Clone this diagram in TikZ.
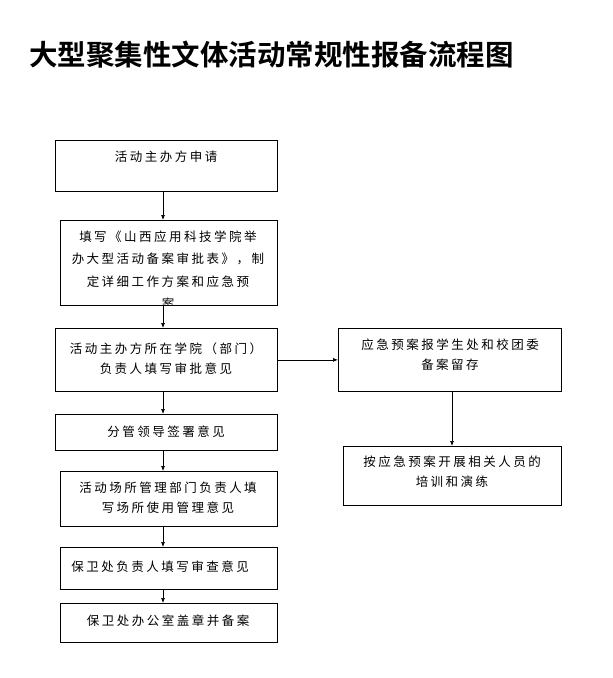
\documentclass[tikz,border=0pt]{standalone}
\usepackage{fontspec}
\newfontfamily\cjk[LetterSpace=20]{Noto Sans CJK SC}
\newfontfamily\cjkb{Noto Sans CJK SC Bold}
\usetikzlibrary{arrows.meta}
\begin{document}
\begin{tikzpicture}[x=1pt,y=-1pt,
 box/.style={draw,line width=0.8pt,anchor=north west},
 txt/.style={font=\cjk\fontsize{12.5}{20}\selectfont,align=center},
 arr/.style={-{Latex[length=5pt,width=4pt]},line width=0.7pt}]
\useasboundingbox (0,0) rectangle (613,678);
\node[font=\cjkb\fontsize{28.5}{32}\selectfont,anchor=west,inner sep=0] (title) at (29,55) {大型聚集性文体活动常规性报备流程图};
\node[box,minimum width=222,minimum height=51] (b1) at (55,140) {};
\node[txt] (t1) at (166,157) {活动主办方申请};
\node[box,minimum width=217,minimum height=85] (b2) at (60,220) {};
\begin{scope}
\clip (60,220) rectangle (277,305);
\node[txt,anchor=north,font=\cjk\fontsize{12.5}{22.5}\selectfont] (t2) at (168,227) {填写《山西应用科技学院举\\办大型活动备案审批表》，制\\定详细工作方案和应急预\\案};
\end{scope}
\node[box,minimum width=222,minimum height=63] (b3) at (55,328) {};
\node[txt] (t3) at (166,359) {活动主办方所在学院（部门）\\负责人填写审批意见};
\node[box,minimum width=222,minimum height=36] (b4) at (55,414) {};
\node[txt] (t4) at (166,432) {分管领导签署意见};
\node[box,minimum width=217,minimum height=55] (b5) at (60,471) {};
\node[txt] (t5) at (168,498) {活动场所管理部门负责人填\\写场所使用管理意见};
\node[box,minimum width=217,minimum height=42] (b6) at (60,547) {};
\node[txt] (t6) at (160,567) {保卫处负责人填写审查意见};
\node[box,minimum width=217,minimum height=39] (b7) at (60,603) {};
\node[txt] (t7) at (168,621) {保卫处办公室盖章并备案};
\node[box,minimum width=223,minimum height=63] (r1) at (338,328) {};
\node[txt] (tr1) at (450,355) {应急预案报学生处和校团委\\备案留存};
\node[box,minimum width=218,minimum height=59] (r2) at (343,446) {};
\node[txt] (tr2) at (452,472) {按应急预案开展相关人员的\\培训和演练};
\draw[arr] (b1.south -| 163,0) -- (b2.north -| 163,0);
\draw[arr] (b2.south -| 163,0) -- (b3.north -| 163,0);
\draw[arr] (b3.south -| 163,0) -- (b4.north -| 163,0);
\draw[arr] (b4.south -| 163,0) -- (b5.north -| 163,0);
\draw[arr] (b5.south -| 163,0) -- (b6.north -| 163,0);
\draw[arr] (b6.south -| 163,0) -- (b7.north -| 163,0);
\draw[arr] (b3.east) -- (r1.west);
\draw[arr] (r1.south -| 452,0) -- (r2.north -| 452,0);
\end{tikzpicture}
\end{document}
